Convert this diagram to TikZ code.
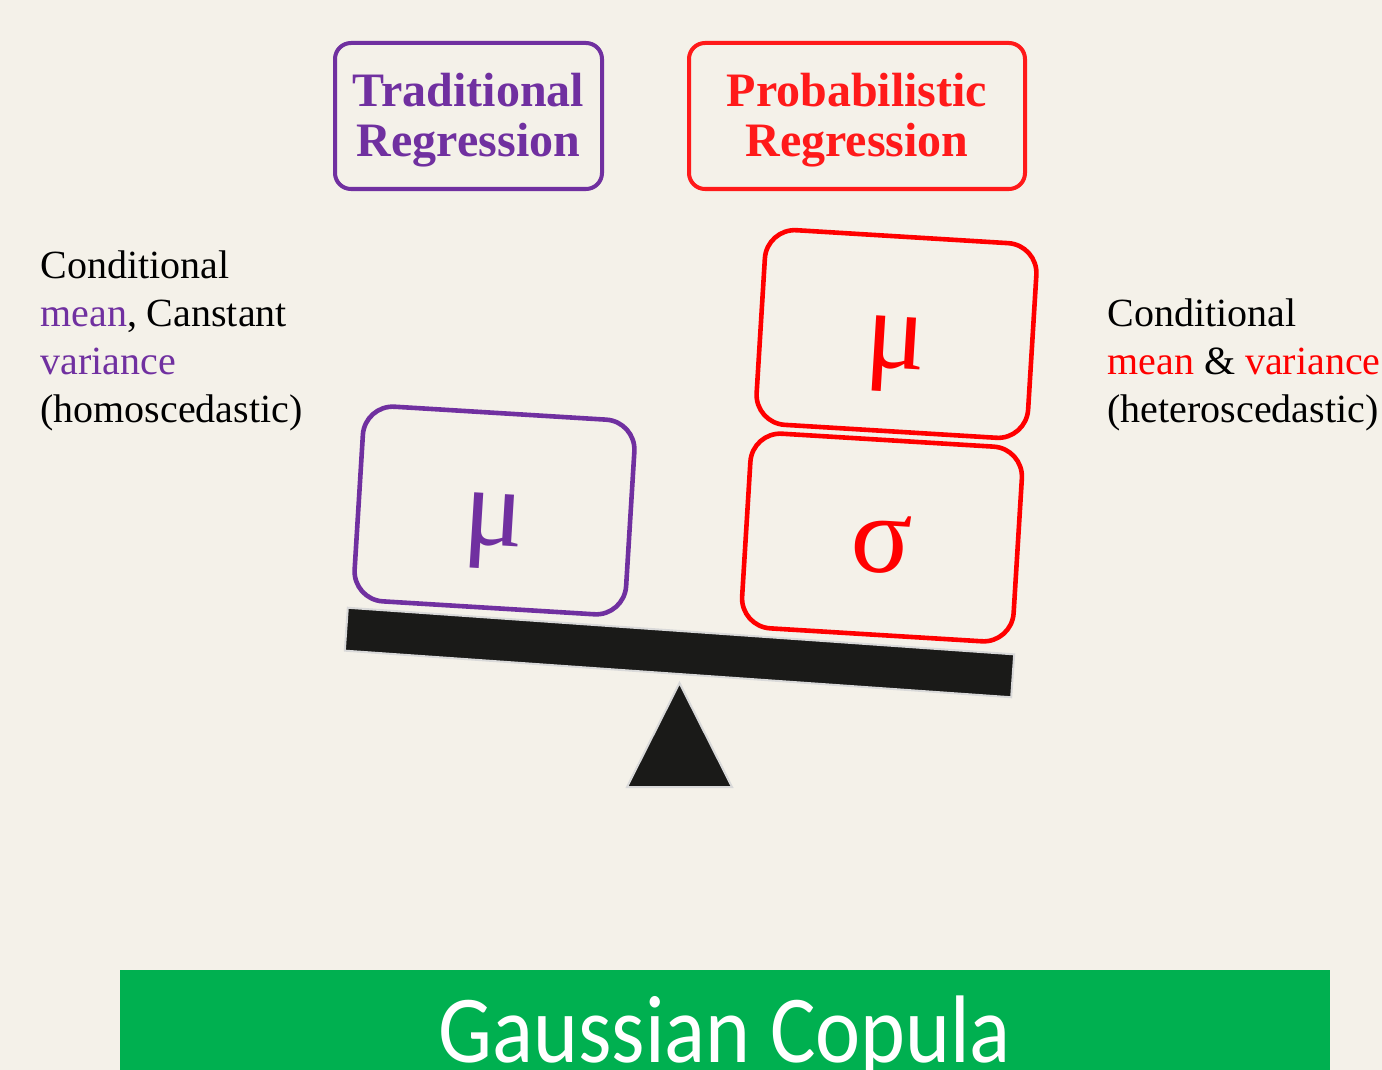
\documentclass[tikz,border=0pt]{standalone}
\usepackage{fontspec}
\setmainfont{Liberation Serif}
\newfontfamily\bannerfont[FakeStretch=0.89]{Carlito}
\definecolor{bg}{HTML}{F4F1E9}
\definecolor{purp}{HTML}{7030A0}
\definecolor{redc}{HTML}{FF0000}
\definecolor{titlered}{HTML}{FF1A1A}
\definecolor{beamc}{HTML}{1A1A18}
\definecolor{edgec}{HTML}{D9D9D9}
\definecolor{bannerc}{HTML}{00B050}
\begin{document}
\begin{tikzpicture}[x=0.5pt,y=-0.5pt,
  titlebox/.style={draw, line width=2pt, rounded corners=8pt, minimum height=73pt,
    inner sep=0pt, align=center, font=\fontsize{24}{25}\selectfont\bfseries},
  blockbox/.style={draw, line width=2.3pt, rounded corners=15pt, minimum width=136pt,
    minimum height=97.5pt, inner sep=0pt, rotate=-3.5,
    font=\fontsize{56}{60}\selectfont, text height=34.5pt, text depth=0pt},
  note/.style={anchor=base west, align=left, inner sep=0pt, font=\fontsize{20}{24}\selectfont},
  support/.style={fill=beamc, draw=edgec, line width=1pt}]
\useasboundingbox (0,0) rectangle (1382,1070);
\fill[bg] (0,0) rectangle (1382,1070);
\clip (0,0) rectangle (1382,1070);

% titles
\node[titlebox, draw=purp, text=purp, minimum width=133.5pt] (trad) at (468.5,116) {\rule{0pt}{20.4pt}Traditional\\Regression};
\node[titlebox, draw=titlered, text=titlered, minimum width=168pt] (prob) at (857,116) {\rule{0pt}{20.4pt}Probabilistic\\Regression};

% notes
\node[note] (leftnote) at (40,422) {Conditional\\\textcolor{purp}{mean}, Canstant\\\textcolor{purp}{variance}\\(homoscedastic)};
\node[note] (rightnote) at (1107,422) {Conditional\\\textcolor{redc}{mean} \& \textcolor{redc}{variance}\\(heteroscedastic)};

% seesaw
\node[support, minimum width=334pt, minimum height=21.5pt, inner sep=0pt, rotate=-4] (beam) at (679.5,652.5) {};
\coordinate (apex) at (679.5,683);
\coordinate (baseL) at (627,787);
\coordinate (baseR) at (732,787);
\filldraw[support] (apex) -- (baseR) -- (baseL) -- cycle;

% blocks
\node[blockbox, draw=purp, text=purp] (mul) at (494.5,510.5) {μ};
\node[blockbox, draw=redc, text=redc] (mur) at (896.5,334) {μ};
\node[blockbox, draw=redc, text=redc] (sig) at (882,537.5) {σ};

% banner
\fill[bannerc] (120,970) rectangle (1330,1080);
\node[anchor=base, inner sep=0pt, text=white, font=\bannerfont\fontsize{48}{50}\selectfont] (banner) at (725,1062) {Gaussian Copula};
\end{tikzpicture}
\end{document}
